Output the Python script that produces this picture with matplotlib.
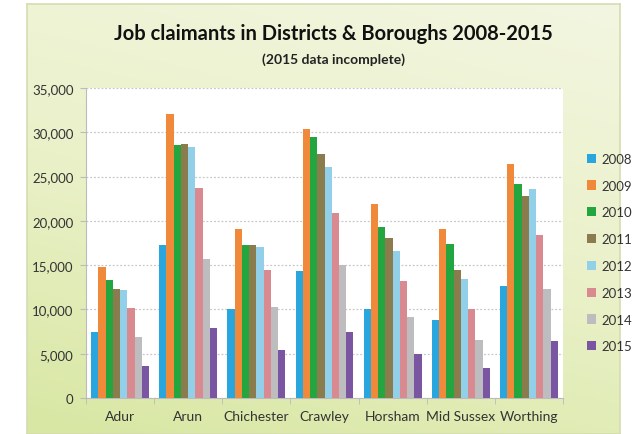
import numpy as np
import matplotlib.pyplot as plt
from matplotlib.colors import LinearSegmentedColormap
from matplotlib.ticker import FuncFormatter, FixedLocator

plt.rcParams['font.family'] = ['Lato', 'DejaVu Sans']

districts = ["Adur", "Arun", "Chichester", "Crawley", "Horsham", "Mid Sussex", "Worthing"]
years = ["2008", "2009", "2010", "2011", "2012", "2013", "2014", "2015"]

# claimants per district, one list per year
y2008 = [7400, 17250, 10100, 14300, 10100, 8800, 12600]
y2009 = [14800, 32100, 19100, 30400, 21900, 19100, 26400]
y2010 = [13300, 28600, 17300, 29500, 19300, 17400, 24200]
y2011 = [12300, 28650, 17300, 27500, 18100, 14500, 22800]
y2012 = [12200, 28300, 17000, 26100, 16600, 13400, 23600]
y2013 = [10200, 23700, 14500, 20900, 13200, 10100, 18400]
y2014 = [6900, 15700, 10300, 15000, 9200, 6500, 12300]
y2015 = [3600, 7950, 5400, 7500, 5000, 3400, 6450]
series = [y2008, y2009, y2010, y2011, y2012, y2013, y2014, y2015]

colors = ["#2AA6DF", "#F0893A", "#23A53F", "#8A7C4C", "#92CFE8", "#D98A90", "#BDBDBF", "#7A56A2"]

fig = plt.figure(figsize=(6.41, 4.35), dpi=100)

# green gradient chart background
bg = fig.add_axes([27/641, 0, (620-27)/641, 1-5/435])
xx, yy = np.meshgrid(np.linspace(0, 1, 200), np.linspace(0, 1, 200))
grad = 0.75 * yy + 0.25 * (1 - xx)
cmap = LinearSegmentedColormap.from_list("bg", ["#F3F6E1", "#EAF1C9", "#D8E7A3"])
bg.imshow(grad, cmap=cmap, aspect="auto", extent=[0, 1, 0, 1], origin="upper")
for s in bg.spines.values():
    s.set_color("#D4DDB0")
    s.set_linewidth(1.2)
bg.set_xticks([])
bg.set_yticks([])

ax = fig.add_axes([86/641, 1-399/435, (563-86)/641, (399-89)/435])
ax.set_facecolor("white")

x = np.arange(len(districts))
n = len(series)
width = 0.85 / n
for i, (vals, c, yr) in enumerate(zip(series, colors, years)):
    ax.bar(x - 0.425 + width * (i + 0.5), vals, width=width, color=c, label=yr, zorder=3)

ax.set_xlim(-0.5, len(districts) - 0.5)
ax.set_ylim(0, 35000)
ax.set_yticks(np.arange(0, 35001, 5000))
ax.yaxis.set_major_formatter(FuncFormatter(lambda v, p: f"{int(v):,}"))
ax.grid(axis="y", linestyle=(0, (1.5, 1.5)), color="#C8C8C8", linewidth=0.9, zorder=0)

ax.set_xticks(x)
ax.set_xticklabels(districts)
ax.xaxis.set_minor_locator(FixedLocator(np.arange(-0.5, len(districts), 1)))
ax.tick_params(axis="x", which="major", length=0, pad=9, labelsize=10, labelcolor="#333333")
ax.tick_params(axis="x", which="minor", length=4, color="#BBBBBB")
ax.tick_params(axis="y", length=4, color="#BBBBBB", labelsize=9.5, labelcolor="#333333", pad=5)

for side in ["top", "right"]:
    ax.spines[side].set_visible(False)
ax.spines["left"].set_color("#BBBBBB")
ax.spines["bottom"].set_color("#BBBBBB")

fig.text(0.52, 1-34/435, "Job claimants in Districts & Boroughs 2008-2015",
         ha="center", va="center", fontsize=14.5, fontweight="bold", color="#111111")
fig.text(0.52, 1-60/435, "(2015 data incomplete)",
         ha="center", va="center", fontsize=10, fontweight="bold", color="#222222")

fig.legend(loc="upper left", bbox_to_anchor=(575/641, 1-142/435), frameon=False,
           fontsize=9.5, handlelength=0.7, handleheight=0.7, handletextpad=0.4,
           labelspacing=1.12, labelcolor="#333333")

fig.savefig("out.png", dpi=100)
